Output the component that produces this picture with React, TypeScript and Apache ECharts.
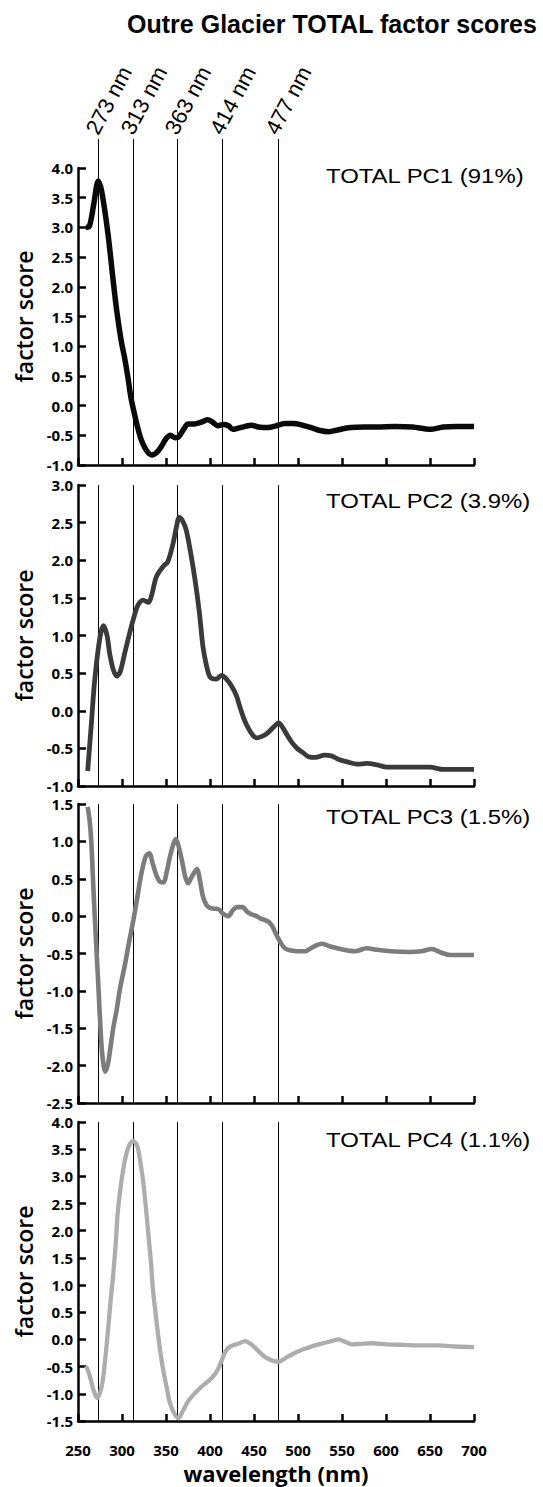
import React, { useEffect, useRef } from "react";
import * as echarts from "echarts";

const markerNm = [273, 313, 363, 414, 477];
const markerLabels = markerNm.map((n) => `${n} nm`);
const panelLabels = ["TOTAL PC1 (91%)", "TOTAL PC2 (3.9%)", "TOTAL PC3 (1.5%)", "TOTAL PC4 (1.1%)"];

const pc1 = [
  [259, 3.0], [263, 3.02], [268, 3.4], [273, 3.78], [277, 3.6], [284, 2.9], [290, 2.1], [294, 1.6],
  [299, 1.1], [303, 0.8], [307, 0.45], [310, 0.15], [314, -0.13], [318, -0.38], [322, -0.58],
  [328, -0.76], [334, -0.83], [340, -0.78], [345, -0.68], [350, -0.56], [355, -0.5], [360, -0.54],
  [364, -0.53], [370, -0.4], [375, -0.31], [382, -0.31], [390, -0.28], [397, -0.24], [403, -0.28],
  [409, -0.34], [415, -0.32], [421, -0.34], [426, -0.4], [432, -0.38], [440, -0.35], [447, -0.33],
  [455, -0.36], [466, -0.37], [475, -0.34], [485, -0.3], [495, -0.3], [505, -0.33], [515, -0.37],
  [525, -0.42], [535, -0.44], [545, -0.41], [560, -0.37], [575, -0.36], [590, -0.36], [610, -0.35],
  [630, -0.36], [650, -0.4], [665, -0.36], [680, -0.35], [700, -0.35],
];

const pc2 = [
  [261, -0.8], [265, -0.2], [269, 0.41], [275, 0.98], [279, 1.13], [283, 1.0], [286, 0.76], [290, 0.55],
  [294, 0.46], [298, 0.52], [303, 0.76], [308, 1.0], [313, 1.22], [318, 1.4], [324, 1.47], [330, 1.44],
  [334, 1.55], [339, 1.78], [347, 1.92], [352, 1.98], [358, 2.22], [362, 2.45], [365, 2.57], [369, 2.52],
  [373, 2.4], [378, 2.1], [383, 1.74], [388, 1.3], [392, 0.85], [396, 0.6], [400, 0.45], [407, 0.42],
  [413, 0.47], [418, 0.43], [425, 0.32], [430, 0.2], [434, 0.05], [439, -0.12], [444, -0.24], [449, -0.33],
  [453, -0.36], [459, -0.34], [465, -0.3], [472, -0.22], [478, -0.16], [483, -0.23], [488, -0.33],
  [493, -0.42], [499, -0.5], [505, -0.55], [512, -0.61], [520, -0.62], [530, -0.59], [538, -0.6],
  [545, -0.64], [556, -0.68], [568, -0.71], [578, -0.7], [590, -0.72], [601, -0.75], [620, -0.75],
  [640, -0.75], [650, -0.75], [665, -0.78], [680, -0.78], [700, -0.78],
];

const pc3 = [
  [261, 1.46], [263, 1.3], [265, 1.02], [267, 0.5], [269, 0.0], [271, -0.45], [273, -0.9], [276, -1.6],
  [278, -1.9], [281, -2.08], [284, -1.98], [287, -1.75], [290, -1.5], [294, -1.25], [298, -0.95],
  [303, -0.67], [308, -0.35], [313, -0.05], [317, 0.22], [322, 0.57], [327, 0.8], [331, 0.84], [335, 0.7],
  [339, 0.55], [343, 0.46], [347, 0.45], [351, 0.6], [354, 0.77], [358, 0.95], [361, 1.03], [364, 0.95],
  [368, 0.75], [372, 0.52], [375, 0.44], [379, 0.52], [385, 0.63], [389, 0.45], [392, 0.26], [396, 0.15],
  [400, 0.11], [405, 0.1], [410, 0.09], [415, 0.03], [421, 0.0], [426, 0.08], [431, 0.12], [437, 0.12],
  [443, 0.05], [448, 0.02], [453, 0.0], [457, -0.03], [462, -0.05], [467, -0.08], [471, -0.14],
  [475, -0.24], [480, -0.35], [485, -0.43], [492, -0.46], [500, -0.47], [508, -0.47], [516, -0.42],
  [527, -0.37], [538, -0.41], [552, -0.45], [565, -0.47], [578, -0.43], [590, -0.45], [605, -0.47],
  [627, -0.48], [640, -0.47], [652, -0.44], [663, -0.49], [673, -0.52], [685, -0.52], [700, -0.52],
];

const pc4 = [
  [259, -0.49], [262, -0.6], [265, -0.77], [268, -0.95], [272, -1.08], [275, -0.98], [278, -0.77],
  [281, -0.35], [284, 0.15], [287, 0.7], [290, 1.19], [293, 1.8], [295, 2.3], [298, 2.75], [301, 3.09],
  [304, 3.35], [307, 3.52], [310, 3.62], [313, 3.65], [316, 3.6], [318, 3.52], [321, 3.25], [324, 2.91],
  [327, 2.45], [330, 1.93], [333, 1.4], [335, 0.95], [338, 0.5], [341, 0.09], [344, -0.28], [347, -0.58],
  [351, -0.9], [354, -1.14], [358, -1.32], [364, -1.45], [369, -1.32], [375, -1.14], [381, -1.02],
  [387, -0.92], [394, -0.82], [402, -0.71], [408, -0.58], [413, -0.4], [417, -0.24], [421, -0.15],
  [427, -0.1], [432, -0.08], [440, -0.03], [446, -0.08], [451, -0.15], [458, -0.26], [464, -0.34],
  [471, -0.39], [478, -0.41], [484, -0.36], [489, -0.31], [500, -0.22], [512, -0.15], [521, -0.1],
  [531, -0.06], [540, -0.02], [546, 0.0], [553, -0.04], [561, -0.09], [572, -0.08], [584, -0.07],
  [600, -0.09], [620, -0.1], [640, -0.11], [660, -0.11], [680, -0.13], [700, -0.14],
];

const seriesData = [pc1, pc2, pc3, pc4];
const yMins = [-1, -1, -2.5, -1.5];
const yMaxs = [4, 3, 1.5, 4];

const panelTops = [168, 485, 804, 1122];
const panelHeights = [297, 301, 299, 299];
const lineColors = ["#0a0a0a", "#3a3a3a", "#7c7c7c", "#adadad"];
const lineWidths = [5.5, 4.8, 4.6, 4.3];
const labelYOffsets = [8, 16, 13, 18];

export default function App() {
  const ref = useRef<HTMLDivElement>(null);
  useEffect(() => {
    if (!ref.current) return;
    const chart = echarts.init(ref.current, null, { renderer: "svg" });
    const left = 78;
    const width = 396;
    const tickFont = {
      fontFamily: "Open Sans",
      fontWeight: "bold" as any,
      fontSize: 15,
      lineHeight: 14,
      color: "#000",
    };

    const grids: any[] = panelTops.map((t, i) => ({ left, width, top: t, height: panelHeights[i] }));
    grids.push({ left, width, top: 139, height: 29 });

    const xAxes: any[] = panelTops.map((_, i) => ({
      type: "value",
      gridIndex: i,
      min: 250,
      max: 700,
      interval: 50,
      axisLine: { show: true, onZero: false, lineStyle: { color: "#000", width: 2.5 } },
      axisTick: { show: true, inside: true, length: 7, lineStyle: { color: "#000", width: 2.5 } },
      axisLabel: { show: i === 3, margin: 22, ...tickFont },
      splitLine: { show: false },
      name: i === 3 ? "wavelength (nm)" : "",
      nameLocation: "middle",
      nameGap: 41,
      nameTextStyle: { fontFamily: "Open Sans", fontWeight: "bold", fontSize: 22, color: "#000" },
    }));
    xAxes.push({ type: "value", gridIndex: 4, min: 250, max: 700, show: false });

    const yAxes: any[] = panelTops.map((_, i) => ({
      type: "value",
      gridIndex: i,
      min: yMins[i],
      max: yMaxs[i],
      interval: 0.5,
      axisLine: { show: true, onZero: false, lineStyle: { color: "#000", width: 2.5 } },
      axisTick: { show: true, inside: true, length: 8, lineStyle: { color: "#000", width: 2.5 } },
      axisLabel: { margin: 5, formatter: (v: number) => v.toFixed(1), ...tickFont },
      splitLine: { show: false },
      name: "factor score",
      nameLocation: "middle",
      nameGap: 40,
      nameTextStyle: { fontFamily: "Open Sans", fontWeight: 600, fontSize: 23, color: "#000" },
    }));
    yAxes.push({ type: "value", gridIndex: 4, min: 0, max: 1, show: false });

    const markLine = {
      silent: true,
      symbol: ["none", "none"],
      label: { show: false },
      lineStyle: { color: "#000", width: 1, type: "solid" },
      emphasis: { disabled: true },
      data: markerNm.map((v) => ({ xAxis: v })),
    };

    const series: any[] = seriesData.map((d, i) => ({
      type: "line",
      xAxisIndex: i,
      yAxisIndex: i,
      data: d,
      showSymbol: false,
      smooth: 0.3,
      lineStyle: { color: lineColors[i], width: lineWidths[i] },
      z: 3,
      markLine: { ...markLine, z: 1 },
    }));
    series.push({
      type: "line",
      xAxisIndex: 4,
      yAxisIndex: 4,
      data: [[250, 0.5]],
      showSymbol: false,
      lineStyle: { opacity: 0 },
      markLine,
    });

    const graphic: any[] = [
      {
        type: "text",
        x: 332,
        y: 24,
        style: {
          text: "Outre Glacier TOTAL factor scores",
          fontFamily: "Liberation Sans",
          fontWeight: "bold",
          fontSize: 25,
          fill: "#000",
          align: "center",
          verticalAlign: "middle",
        },
      },
      ...panelLabels.map((t, i) => ({
        type: "text",
        x: 326,
        y: panelTops[i] + labelYOffsets[i],
        scaleX: 1.14,
        style: {
          text: t,
          fontFamily: "Liberation Sans",
          fontSize: 21,
          fill: "#000",
          align: "left",
          verticalAlign: "middle",
        },
      })),
    ];

    chart.setOption({
      animation: false,
      backgroundColor: "#fff",
      grid: grids,
      xAxis: xAxes,
      yAxis: yAxes,
      series,
      graphic,
    });

    const rotated = markerNm.map((v, i) => {
      const px = chart.convertToPixel({ xAxisIndex: 4 }, v) as number;
      return {
        type: "text",
        x: px + 3,
        y: 138,
        rotation: (62 * Math.PI) / 180,
        style: {
          text: markerLabels[i],
          fontFamily: "Liberation Sans",
          fontSize: 22,
          fill: "#000",
          align: "left",
          verticalAlign: "bottom",
        },
      };
    });
    chart.setOption({ graphic: [...graphic, ...rotated] });

    return () => chart.dispose();
  }, []);
  return <div ref={ref} style={{ position: "absolute", left: 0, top: 0, width: 543, height: 1487 }} />;
}
